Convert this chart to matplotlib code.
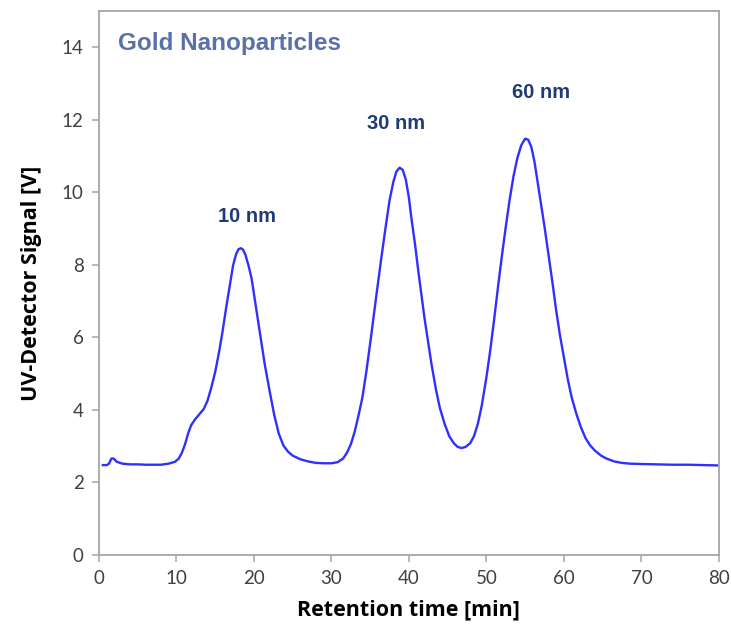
import matplotlib
matplotlib.use('Agg')
import matplotlib.pyplot as plt
from matplotlib import font_manager

# retention time [min] and UV signal [V]
time_min = [0.5, 1.0, 1.3, 1.6, 1.9, 2.3, 3.0, 4.0, 5.0, 6.0, 7.0, 8.0, 9.0, 9.8,
            10.3, 10.7, 11.1, 11.5, 11.9, 12.4, 12.9, 13.5, 14.0, 14.5, 15.0, 15.5,
            15.9, 16.4, 16.9, 17.3, 17.7, 18.0, 18.3, 18.6, 18.9, 19.3, 19.7, 20.1,
            20.5, 20.9, 21.4, 22.0, 22.6, 23.2, 23.8, 24.4, 25.0, 26.0, 27.0, 28.0,
            29.0, 30.0, 30.8, 31.5, 32.0, 32.5, 33.0, 33.5, 34.0, 34.5, 35.1, 35.7,
            36.4, 37.0, 37.5, 38.0, 38.4, 38.8, 39.2, 39.6, 40.0, 40.3, 40.8, 41.2,
            41.6, 42.0, 42.5, 42.9, 43.5, 44.0, 44.6, 45.2, 45.8, 46.3, 46.8, 47.3,
            47.9, 48.4, 48.9, 49.4, 50.0, 50.5, 51.0, 51.5, 52.0, 52.5, 53.0, 53.5,
            54.0, 54.5, 55.0, 55.4, 55.8, 56.2, 56.6, 57.0, 57.5, 58.0, 58.5, 59.0,
            59.5, 60.0, 60.5, 61.0, 61.6, 62.2, 62.8, 63.4, 64.0, 64.8, 65.5, 66.5,
            67.5, 68.5, 70.0, 72.0, 74.0, 76.0, 78.0, 80.0]
signal_v = [2.48, 2.48, 2.52, 2.66, 2.66, 2.57, 2.52, 2.50, 2.50, 2.49, 2.49, 2.49, 2.52, 2.57,
            2.66, 2.82, 3.05, 3.35, 3.58, 3.74, 3.87, 4.02, 4.25, 4.62, 5.05, 5.60,
            6.10, 6.80, 7.45, 7.98, 8.30, 8.43, 8.46, 8.42, 8.28, 7.98, 7.62, 7.05,
            6.50, 5.95, 5.25, 4.55, 3.88, 3.35, 3.02, 2.85, 2.74, 2.64, 2.58, 2.54,
            2.53, 2.53, 2.56, 2.66, 2.82, 3.05, 3.40, 3.85, 4.35, 5.05, 6.00, 7.00,
            8.13, 9.05, 9.78, 10.30, 10.58, 10.68, 10.62, 10.35, 9.85, 9.32, 8.55, 7.85,
            7.20, 6.55, 5.85, 5.28, 4.55, 4.05, 3.62, 3.28, 3.08, 2.98, 2.95, 2.98,
            3.08, 3.28, 3.62, 4.12, 4.90, 5.65, 6.50, 7.40, 8.25, 9.05, 9.80, 10.45,
            10.95, 11.30, 11.48, 11.45, 11.25, 10.85, 10.30, 9.75, 9.05, 8.30, 7.55, 6.75,
            6.05, 5.45, 4.85, 4.35, 3.90, 3.52, 3.22, 3.02, 2.88, 2.74, 2.66, 2.58,
            2.54, 2.52, 2.51, 2.50, 2.49, 2.49, 2.48, 2.47]

peak_labels = ['10 nm', '30 nm', '60 nm']
peak_label_t = [19.1, 38.3, 57.0]
peak_label_v = [9.34, 11.9, 12.76]

x_ticks = [0, 10, 20, 30, 40, 50, 60, 70, 80]
y_ticks = [0, 2, 4, 6, 8, 10, 12, 14]

installed = {f.name for f in font_manager.fontManager.ttflist}
narrow = 'Liberation Sans Narrow' if 'Liberation Sans Narrow' in installed else 'Liberation Sans'
tick_font = 'Lato'

fig = plt.figure(figsize=(7.31, 6.3), dpi=100)
ax = fig.add_axes([0.1354, 0.119, 0.848, 0.8635])

ax.plot(time_min, signal_v, color='#2f2fff', lw=1.7)

ax.set_xlim(0, 80)
ax.set_ylim(0, 15)
ax.set_xticks(x_ticks)
ax.set_yticks(y_ticks)

for s in ax.spines.values():
    s.set_color('#a6a6a6')
    s.set_linewidth(1.3)
ax.tick_params(direction='out', length=5, width=1.1, color='#a6a6a6',
               labelcolor='#404040', labelsize=13.5, pad=6)
for lab in ax.get_xticklabels() + ax.get_yticklabels():
    lab.set_family(tick_font)

ax.set_xlabel('Retention time [min]', family='Open Sans', fontweight='bold',
              fontsize=15.5, color='black', labelpad=9)
ax.set_ylabel('UV-Detector Signal [V]', family='Open Sans', fontweight='bold',
              fontsize=15.5, color='black', labelpad=14)

ax.text(2.4, 14.1, 'Gold Nanoparticles', family=narrow, fontweight='bold',
        fontsize=17.5, color='#5a70a8', va='center', ha='left')

for lab, t, v in zip(peak_labels, peak_label_t, peak_label_v):
    ax.text(t, v, lab, family=narrow, fontweight='bold', fontsize=14.5,
            color='#203a78', ha='center', va='center')

fig.savefig('out.png', dpi=100)
